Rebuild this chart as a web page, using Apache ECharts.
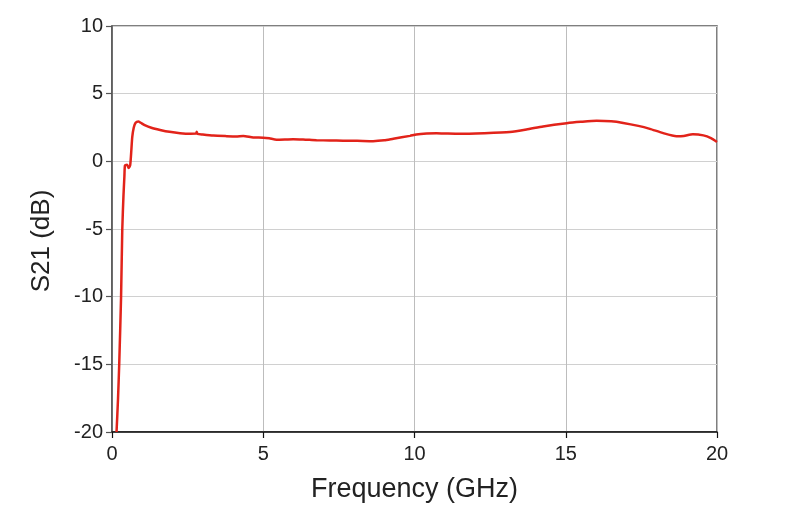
<!DOCTYPE html>
<html><head><meta charset="utf-8">
<script src="https://cdn.jsdelivr.net/npm/echarts@6/dist/echarts.min.js"></script>
<style>html,body{margin:0;padding:0;background:#fff}#c{width:792px;height:527px}</style>
</head><body><div id="c"></div>
<script>
const freqGHz = [0.15,0.2,0.24,0.3,0.34,0.38,0.41,0.43,0.5,0.55,0.6,0.63,0.67,0.72,0.78,0.87,0.95,1.1,1.3,1.59,1.9,2.25,2.6,2.78,2.8,2.83,3.0,3.35,3.79,4.1,4.34,4.67,5.0,5.2,5.44,5.99,6.4,6.76,7.2,7.64,8.1,8.63,9.0,9.3,9.85,10.06,10.4,10.73,11.1,11.5,12.3,13.15,13.7,14.25,15.03,15.5,16.02,16.5,16.9,17.4,17.78,18.2,18.66,18.9,19.2,19.55,19.8,20.0];
const s21dB = [-20,-17.5,-14.9,-10,-5,-2.5,-1.1,-0.3,-0.25,-0.5,-0.3,0.5,1.8,2.5,2.85,2.95,2.85,2.65,2.48,2.32,2.18,2.08,2.04,2.05,2.18,2.03,1.98,1.9,1.86,1.84,1.88,1.76,1.75,1.7,1.6,1.64,1.6,1.56,1.54,1.53,1.52,1.49,1.55,1.67,1.88,1.98,2.05,2.08,2.05,2.03,2.08,2.17,2.35,2.58,2.82,2.92,3.0,2.96,2.84,2.62,2.4,2.1,1.86,1.88,2.0,1.92,1.72,1.43];
const xTicks = [0,5,10,15,20];
const yTicks = [-20,-15,-10,-5,0,5,10];

const chart = echarts.init(document.getElementById('c'), null, {renderer:'canvas'});
chart.setOption({
  animation:false,
  backgroundColor:'#fff',
  grid:{left:112,right:75,top:26,bottom:95,show:true,borderColor:'#555',borderWidth:1.5,backgroundColor:'transparent'},
  xAxis:{type:'value',min:xTicks[0],max:xTicks[xTicks.length-1],interval:5,
    name:'Frequency (GHz)',nameLocation:'middle',nameGap:44,
    nameTextStyle:{fontFamily:'Liberation Sans',fontSize:27,color:'#222'},
    axisLine:{show:true,onZero:false,lineStyle:{color:'#111',width:1.5}},
    axisTick:{show:true,length:6,lineStyle:{color:'#111',width:1.2}},
    axisLabel:{fontFamily:'Liberation Sans',fontSize:20,color:'#222',margin:12},
    splitLine:{show:true,lineStyle:{color:'#bdbdbd',width:1}}},
  yAxis:{type:'value',min:yTicks[0],max:yTicks[yTicks.length-1],interval:5,
    name:'S21 (dB)',nameLocation:'middle',nameGap:57,nameRotate:90,
    nameTextStyle:{fontFamily:'Liberation Sans',fontSize:26,color:'#222',padding:[0,24,0,0]},
    axisLine:{show:true,onZero:false,lineStyle:{color:'#555',width:1.5}},
    axisTick:{show:true,length:6,lineStyle:{color:'#555',width:1.2}},
    axisLabel:{fontFamily:'Liberation Sans',fontSize:20,color:'#222',margin:9},
    splitLine:{show:true,lineStyle:{color:'#d0d0d0',width:1}}},
  series:[{type:'line',data:freqGHz.map((f,i)=>[f,s21dB[i]]),showSymbol:false,smooth:0.2,
    lineStyle:{color:'#e2231a',width:2.5},clip:true}]
});
</script></body></html>
